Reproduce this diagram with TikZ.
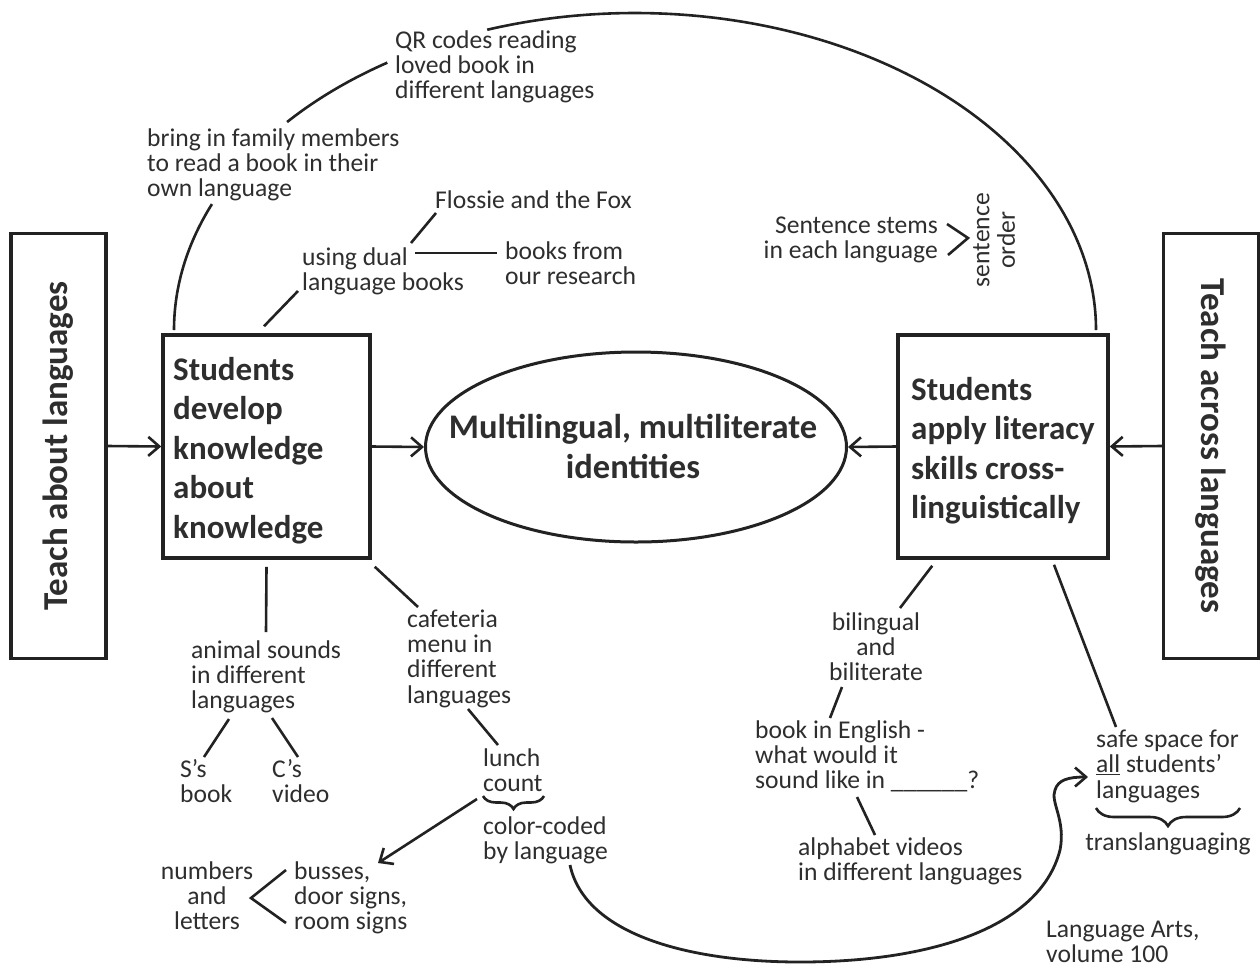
\documentclass[tikz,border=0pt]{standalone}
\usepackage{fontspec}
\setmainfont{Carlito}
\usetikzlibrary{arrows.meta,decorations.pathreplacing,shapes.geometric,calc}
\definecolor{ink}{HTML}{222222}
\definecolor{txt}{HTML}{2E2E2E}
\newcommand{\mlL}[1]{\begin{tabular}[t]{@{}l@{}}#1\end{tabular}}
\newcommand{\mlC}[1]{\begin{tabular}[t]{@{}c@{}}#1\end{tabular}}
\newcommand{\mlR}[1]{\begin{tabular}[t]{@{}r@{}}#1\end{tabular}}
\begin{document}
\begin{tikzpicture}[x=1pt,y=-1pt,
  every node/.style={text=txt},
  lbl/.style={inner sep=0pt, anchor=base west, font=\fontsize{25.6}{25.4}\selectfont},
  lblc/.style={lbl, anchor=base},
  big/.style={inner sep=0pt, anchor=base west, font=\bfseries\fontsize{33}{39.5}\selectfont},
  box/.style={draw=ink, line width=3.5pt, rectangle, inner sep=0pt},
  sidebox/.style={box, font=\bfseries\fontsize{35}{35}\selectfont, minimum width=425, minimum height=95},
  ln/.style={draw=ink, line width=2.6pt},
  arr/.style={ln, -{Straight Barb[length=11pt,width=19pt,line width=2.6pt]}},
  brc/.style={ln, decorate, decoration={brace, mirror}},
]
\useasboundingbox[fill=white] (0,0) rectangle (1260,970);

% side boxes
\node[sidebox, rotate=90] (tab) at (58.5,446) {Teach about languages};
\node[sidebox, rotate=-90] (tac) at (1211,446) {Teach across languages};

% central boxes
\node[box, minimum width=207, minimum height=223] (lbox) at (266.5,446.5) {};
\node[big] (lboxt) at (173,380) {\mlL{Students\\develop\\knowledge\\about\\knowledge}};
\node[box, minimum width=210, minimum height=223] (rbox) at (1003,446.5) {};
\node[big] (rboxt) at (911,400) {\mlL{Students\\apply literacy\\skills cross-\\linguistically}};

% ellipse
\node[ellipse, draw=ink, line width=3pt, minimum width=421, minimum height=190, inner sep=0pt] (id) at (636,447) {};
\node[inner sep=0pt, anchor=base, font=\bfseries\fontsize{34.5}{40}\selectfont] (idt) at (633,438)
      {\mlC{Multilingual, multiliterate\\identities}};

% main arrows
\draw[arr] (tab.south) -- (lbox.west);
\draw[arr] (lbox.east) -- (id.west);
\draw[arr] (rbox.west) -- (id.east);
\draw[arr] (tac.south) -- (rbox.east);

% top texts
\node[lbl] (qr) at (395,48) {\mlL{QR codes reading\\loved book in\\different languages}};
\node[lbl] (fam) at (147,146) {\mlL{bring in family members\\to read a book in their\\own language}};
\node[lbl] (flo) at (435,208) {Flossie and the Fox};
\node[lbl] (dual) at (302,265) {\mlL{using dual\\language books}};
\node[lbl] (res) at (505,259) {\mlL{books from\\our research}};
\node[lbl, anchor=base east] (stem) at (938,233) {\mlR{Sentence stems\\in each language}};
\node[lbl, anchor=center, rotate=90] (ord) at (997,240) {\mlC{sentence\\order}};

% big arc from left box to right box
\coordinate (ac) at (635,330);
\draw[ln] ($(ac)+(180:461 and 317)$) arc[start angle=180, end angle=203.4, x radius=461, y radius=317];
\draw[ln] ($(ac)+(221:461 and 317)$) arc[start angle=221, end angle=237.5, x radius=461, y radius=317];
\draw[ln] ($(ac)+(251.3:461 and 317)$) arc[start angle=251.3, end angle=360, x radius=461, y radius=317];

% dual language books connectors
\draw[ln] ($(lbox.north)+(-2.5,-7)$) -- ($(dual.base west)+(-4,26)$);
\draw[ln] ($(dual.base west)+(109,-22)$) -- ($(flo.base west)+(1,5)$);
\draw[ln] ($(dual.base west)+(113,-12)$) -- ($(res.base west)+(-8,-6)$);
\draw[ln] ($(stem.base east)+(9,-9)$) -- ($(stem.base east)+(30,5)$) -- ($(stem.base east)+(10,22)$);

% lower left
\node[lbl] (ani) at (191,658) {\mlL{animal sounds\\in different\\languages}};
\node[lbl] (sb) at (180,777) {\mlL{S’s\\book}};
\node[lbl] (cv) at (272,777) {\mlL{C’s\\video}};
\node[lbl] (cafe) at (407,627) {\mlL{cafeteria\\menu in\\different\\languages}};
\node[lbl] (lunch) at (483,766) {\mlL{lunch\\count}};
\node[lbl] (cc) at (483,834) {\mlL{color-coded\\by language}};
\node[lbl] (bus) at (294,879) {\mlL{busses,\\door signs,\\room signs}};
\node[lblc] (num) at (207,879) {\mlC{numbers\\and\\letters}};

\draw[ln] ($(lbox.south)+(0,7)$) -- ($(ani.base west)+(75,-26)$);
\draw[ln] ($(ani.base west)+(38,61)$) -- ($(sb.base west)+(24,-20)$);
\draw[ln] ($(ani.base west)+(81,60)$) -- ($(cv.base west)+(26,-20)$);
\draw[ln] ($(lbox.south east)+(3,7)$) -- ($(cafe.base west)+(11,-20)$);
\draw[ln] ($(cafe.base west)+(61,82)$) -- ($(lunch.base west)+(15,-21)$);
\draw[brc, decoration={amplitude=13pt}] ($(lunch.base west)+(0,30)$) -- ($(lunch.base west)+(61,30)$);
\draw[arr] ($(lunch.base west)+(-6,33)$) -- ($(bus.base west)+(84,-16)$);
\draw[ln] ($(bus.base west)+(-8,-9)$) -- ($(bus.base west)+(-43,19)$) -- ($(bus.base west)+(-8,44)$);

% right side
\node[lblc] (bil) at (876,630) {\mlC{bilingual\\and\\biliterate}};
\node[lbl] (eng) at (755,738) {\mlL{book in English -\\what would it\\sound like in \_\_\_\_\_\_?}};
\node[lbl] (alp) at (798,855) {\mlL{alphabet videos\\in different languages}};
\node[lbl] (safe) at (1096,747) {\mlL{safe space for\\\underline{all} students’\\languages}};
\node[lblc] (trans) at (1168,850) {translanguaging};
\node[lbl] (la) at (1046,937) {\mlL{Language Arts,\\volume 100}};

\draw[ln] ($(rbox.south west)+(36,6)$) -- ($(bil.base)+(24,-22)$);
\draw[ln] ($(bil.base)+(-34,57)$) -- ($(eng.base west)+(75,-20)$);
\draw[ln] ($(eng.base west)+(102,59)$) -- ($(alp.base west)+(77,-20)$);
\draw[ln] ($(rbox.south)+(51,5)$) -- ($(safe.base west)+(20,-20)$);
\draw[brc, decoration={amplitude=18pt}] ($(safe.base west)+(0,61)$) -- ($(safe.base west)+(144,61)$);

% bottom sweeping arrow
\draw[arr, line width=2.8pt] ($(cc.base west)+(87,31)$)
  .. controls (585,935) and (690,962) .. (800,962)
  .. controls (930,962) and (1040,928) .. (1060,850)
  .. controls (1066,820) and (1050,802) .. (1055,790)
  .. controls (1058,780) and (1068,777) .. ($(safe.base west)+(-8,30)$);
\end{tikzpicture}
\end{document}
